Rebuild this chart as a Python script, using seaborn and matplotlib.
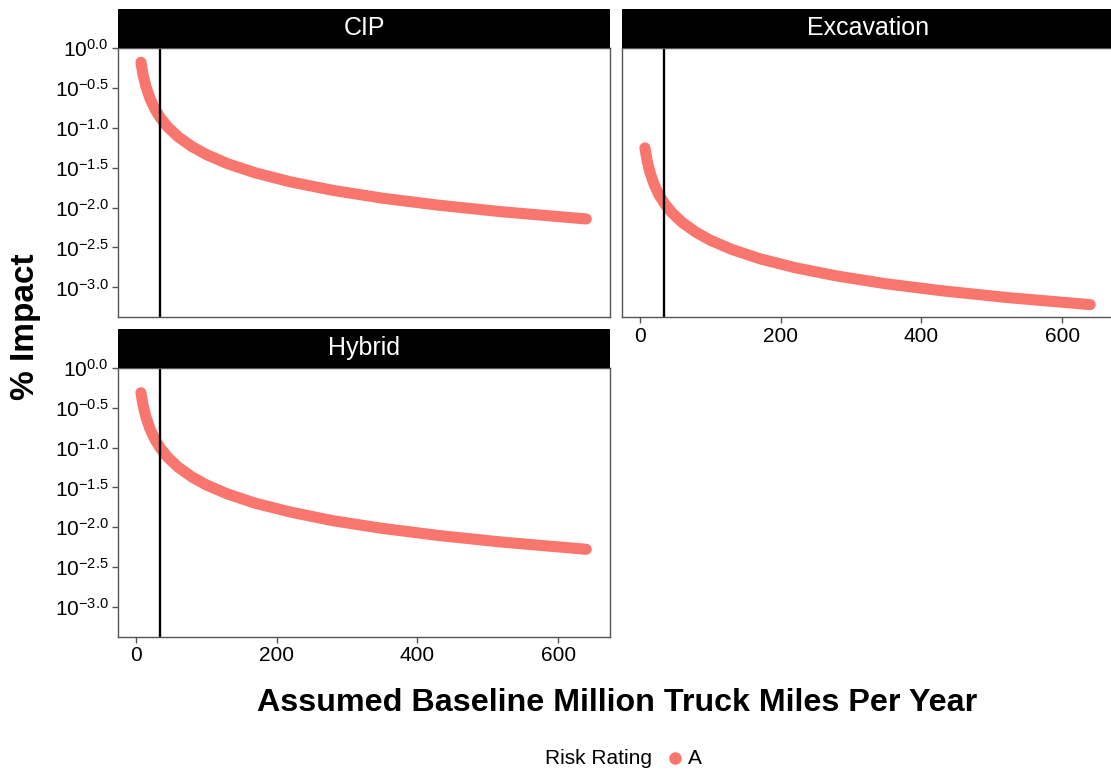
import pandas as pd
import seaborn as sns
import matplotlib.pyplot as plt
import numpy as np
from matplotlib.lines import Line2D
from matplotlib.ticker import FixedLocator, FuncFormatter, NullLocator

sns.set_theme(style="white")
plt.rcParams['font.family'] = ['Liberation Sans', 'DejaVu Sans']
plt.rcParams['mathtext.fontset'] = 'custom'
plt.rcParams['mathtext.rm'] = 'Liberation Sans'
plt.rcParams['mathtext.it'] = 'Liberation Sans:italic'
plt.rcParams['mathtext.bf'] = 'Liberation Sans:bold'
plt.rcParams['text.color'] = 'black'

# values
miles = [7, 10, 14, 20, 27, 34, 45, 60, 80, 100, 130, 170, 220, 280, 350, 430, 520, 640]
cip = [0.657, 0.46, 0.329, 0.23, 0.170, 0.135, 0.102, 0.0767, 0.0575, 0.046, 0.0354,
       0.0271, 0.0209, 0.0164, 0.0131, 0.0107, 0.00885, 0.00719]
excavation = [0.0557, 0.039, 0.0279, 0.0195, 0.0144, 0.0115, 0.00867, 0.0065, 0.00488,
              0.0039, 0.0030, 0.00229, 0.00177, 0.00139, 0.00111, 0.000907, 0.00075, 0.000609]
hybrid = [0.486, 0.34, 0.243, 0.17, 0.126, 0.1, 0.0756, 0.0567, 0.0425, 0.034, 0.0262,
          0.02, 0.0155, 0.0121, 0.00971, 0.00791, 0.00654, 0.00531]
baseline = 34
y_ticks = [0.0, -0.5, -1.0, -1.5, -2.0, -2.5, -3.0]
x_ticks = [0, 200, 400, 600]

df = pd.concat([
    pd.DataFrame({'miles': miles, 'impact': cip, 'method': 'CIP'}),
    pd.DataFrame({'miles': miles, 'impact': excavation, 'method': 'Excavation'}),
    pd.DataFrame({'miles': miles, 'impact': hybrid, 'method': 'Hybrid'}),
])

W, H = 1111, 770
fig = plt.figure(figsize=(W / 100, H / 100), dpi=100)

red = '#F8766D'
edge = '#555555'
# (left, top, right, bottom) in pixels
boxes = {'CIP': (118, 47.7, 610, 317),
         'Excavation': (622, 47.7, 1114, 317),
         'Hybrid': (118, 367.7, 610, 636.7)}
strip_h = 38.7

for name, (l, t, r, b) in boxes.items():
    ax = fig.add_axes([l / W, 1 - b / H, (r - l) / W, (b - t) / H])
    sub = df[df['method'] == name]
    sns.lineplot(data=sub, x='miles', y='impact', ax=ax, color=red, linewidth=8,
                 solid_capstyle='round', solid_joinstyle='round', legend=False)
    ax.axvline(baseline, color='black', linewidth=1.7)
    ax.set_yscale('log')
    ax.set_ylim(10 ** -3.37, 10 ** 0.0)
    ax.set_xlim(-25.6, 673.8)
    ax.set_xlabel('')
    ax.set_ylabel('')
    ax.yaxis.set_major_locator(FixedLocator([10 ** v for v in y_ticks]))
    ax.yaxis.set_minor_locator(NullLocator())
    ax.yaxis.set_major_formatter(FuncFormatter(lambda v, p: r'$10^{%.1f}$' % np.log10(v)))
    ax.set_xticks(x_ticks)
    for s in ax.spines.values():
        s.set_color(edge)
        s.set_linewidth(1.0)
    ax.tick_params(axis='both', which='major', length=4, width=1, color=edge,
                   labelsize=15, labelcolor='black', direction='out', pad=3)
    if name == 'Excavation':
        ax.tick_params(axis='y', left=False, labelleft=False)
    else:
        ax.tick_params(axis='y', left=True, labelleft=True)
    if name == 'CIP':
        ax.tick_params(axis='x', bottom=False, labelbottom=False)
    else:
        ax.tick_params(axis='x', bottom=True, labelbottom=True)

    sax = fig.add_axes([l / W, 1 - t / H, (r - l) / W, strip_h / H])
    sax.set_facecolor('black')
    sax.set_xticks([])
    sax.set_yticks([])
    for s in sax.spines.values():
        s.set_visible(False)
    sax.text(0.5, 0.5, name, color='white', fontsize=18, ha='center', va='center',
             transform=sax.transAxes)

fig.text(26 / W, 1 - 327 / H, '% Impact', rotation=90, fontsize=24, fontweight='bold',
         ha='center', va='center')
fig.text(617 / W, 1 - 703 / H, 'Assumed Baseline Million Truck Miles Per Year', fontsize=23.2,
         fontweight='bold', ha='center', va='center')

# legend: title, key, label on one row
fig.text(545 / W, 1 - 758 / H, 'Risk Rating', fontsize=15, ha='left', va='center')
fig.add_artist(Line2D([675 / W], [1 - 758 / H], marker='o', color=red, markersize=8,
                      linestyle='none', transform=fig.transFigure))
fig.text(688 / W, 1 - 758 / H, 'A', fontsize=15, ha='left', va='center')

fig.savefig('out.png', dpi=100)
